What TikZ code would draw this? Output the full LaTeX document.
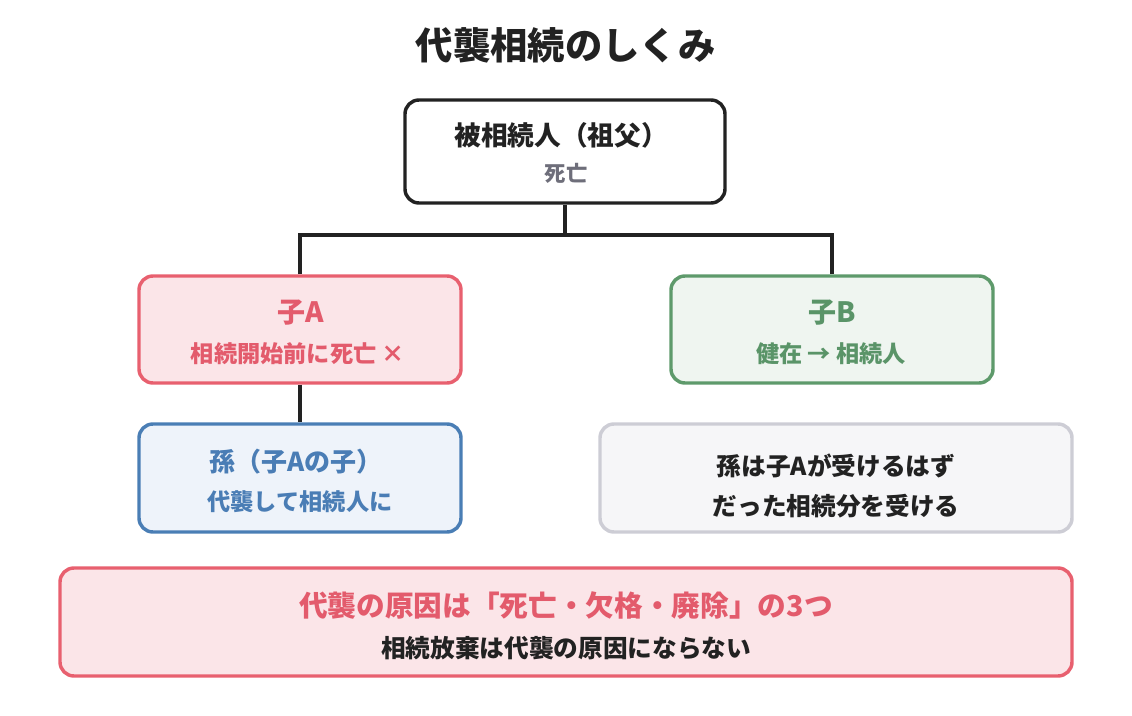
\documentclass[tikz,border=0pt]{standalone}
\usepackage{fontspec}
\setmainfont{Noto Sans CJK JP}
\usepackage{xcolor}
\usetikzlibrary{positioning, calc}

\definecolor{inkdark}{HTML}{222222}
\definecolor{inkgray}{HTML}{6E6E7A}
\definecolor{redline}{HTML}{E8606F}
\definecolor{redfill}{HTML}{FBE5E8}
\definecolor{redtext}{HTML}{E35B6C}
\definecolor{greenline}{HTML}{5E9A6B}
\definecolor{greenfill}{HTML}{EFF5F0}
\definecolor{greentext}{HTML}{5A9468}
\definecolor{blueline}{HTML}{4A7EB5}
\definecolor{bluefill}{HTML}{EEF3FA}
\definecolor{bluetext}{HTML}{4A7DB5}
\definecolor{grayline}{HTML}{CDCDD5}
\definecolor{grayfill}{HTML}{F6F6F8}

\newcommand{\fs}[1]{\fontsize{#1}{#1}\selectfont}

\begin{document}
\begin{tikzpicture}[x=0.75pt, y=-0.75pt, font=\bfseries]

% --- Styles ---
\tikzset{
    famboxA/.style={rectangle, rounded corners=10.5pt, line width=2.6pt, inner sep=0pt},
    treeline/.style={line width=2.4pt, inkdark},
    headtxt/.style={font=\fs{20pt}\bfseries},
    subtxt/.style={font=\fs{17.4pt}\bfseries},
}

\useasboundingbox (0,0) rectangle (1132,716);

% --- Title ---
\node[font=\fs{28pt}\bfseries, text=inkdark] (title) at (566,45) {代襲相続のしくみ};

% --- Row 1: deceased ---
\node[famboxA, draw=inkdark, fill=white, minimum width=240pt, minimum height=77.25pt] (root) at (565,151.5) {};
\node[headtxt, text=inkdark] (root-t) at (561,135) {被相続人（祖父）};
\node[font=\fs{16pt}\bfseries, text=inkgray] (root-s) at (566,173) {死亡};

% --- Row 2: children ---
\node[famboxA, draw=redline, fill=redfill, minimum width=241.5pt, minimum height=80.25pt] (kidA) at (300,329.5) {};
\node[font=\fs{21pt}\bfseries, text=redtext] (kidA-t) at (301,313) {子A};
\node[subtxt, text=redtext] (kidA-s) at (298,354) {相続開始前に死亡 ×};

\node[famboxA, draw=greenline, fill=greenfill, minimum width=241.5pt, minimum height=80.25pt] (kidB) at (832,329.5) {};
\node[font=\fs{21pt}\bfseries, text=greentext] (kidB-t) at (832,313) {子B};
\node[subtxt, text=greentext] (kidB-s) at (831,354) {健在 → 相続人};

% --- Row 3: grandchild and note ---
\node[famboxA, draw=blueline, fill=bluefill, minimum width=241.5pt, minimum height=81pt] (grand) at (300,478) {};
\node[font=\fs{19.5pt}\bfseries, text=bluetext] (grand-t) at (296,462) {孫（子Aの子）};
\node[subtxt, text=bluetext] (grand-s) at (300,502) {代襲して相続人に};

\node[famboxA, draw=grayline, fill=grayfill, minimum width=354pt, minimum height=81pt] (note) at (836,478) {};
\node[font=\fs{18.5pt}\bfseries, text=inkdark] (note-a) at (836,466) {孫は子Aが受けるはず};
\node[font=\fs{18.5pt}\bfseries, text=inkdark] (note-b) at (836,506) {だった相続分を受ける};

% --- Bottom: summary ---
\node[famboxA, draw=redline, fill=redfill, minimum width=759pt, minimum height=81pt] (sum) at (566,622) {};
\node[font=\fs{21.5pt}\bfseries, text=redtext] (sum-t) at (566,606) {代襲の原因は「死亡・欠格・廃除」の3つ};
\node[font=\fs{18.5pt}\bfseries, text=inkdark] (sum-s) at (566,648) {相続放棄は代襲の原因にならない};

% --- Tree lines ---
\coordinate (split) at (565,235);
\draw[treeline] (root.south) -- (split);
\draw[treeline] (kidA.north) -- (kidA.north |- split) -- (kidB.north |- split) -- (kidB.north);
\draw[treeline] (kidA.south) -- (grand.north);

\end{tikzpicture}
\end{document}
